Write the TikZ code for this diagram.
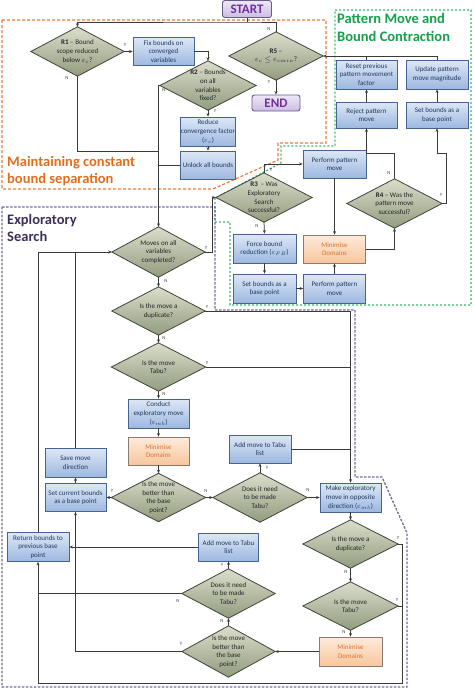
\documentclass[tikz,border=0pt]{standalone}
\usepackage{fontspec}
\setmainfont{Carlito}
\usetikzlibrary{arrows.meta}
\pgfdeclarelayer{back}
\pgfdeclarelayer{mid}
\pgfsetlayers{back,mid,main}
\definecolor{boxt}{HTML}{DDE7F5}
\definecolor{boxb}{HTML}{9DB8E0}
\definecolor{boxd}{HTML}{46648F}
\definecolor{boxtxt}{HTML}{1F3A60}
\definecolor{oboxt}{HTML}{FDEBDC}
\definecolor{oboxb}{HTML}{F8C69C}
\definecolor{oboxd}{HTML}{8C7A70}
\definecolor{oboxtxt}{HTML}{D9732F}
\definecolor{diat}{HTML}{DADDCB}
\definecolor{diab}{HTML}{929C7E}
\definecolor{diad}{HTML}{3E4438}
\definecolor{diatxt}{HTML}{262626}
\definecolor{linec}{HTML}{3A3A3A}
\definecolor{labc}{HTML}{404040}
\definecolor{termt}{HTML}{EEE8F6}
\definecolor{termb}{HTML}{CDBDE3}
\definecolor{termd}{HTML}{6A5A8A}
\definecolor{termtxt}{HTML}{7030A0}
\definecolor{orgc}{HTML}{EE7A3A}
\definecolor{grnc}{HTML}{3DB56C}
\definecolor{purc}{HTML}{6F6B94}
\definecolor{orgt}{HTML}{E36C1D}
\definecolor{grnt}{HTML}{15A04A}
\definecolor{purt}{HTML}{3D2E5C}
\newcommand{\bfnt}{\fontsize{7}{8.7}\selectfont}
\tikzset{
 line/.style={draw=linec, line width=0.75pt},
 arr/.style={line, -{Stealth[length=3.5pt,width=3pt]}},
 sz/.style 2 args={minimum width=#1pt, minimum height=#2pt},
 box/.style={rectangle, draw=boxd, line width=0.8pt, top color=boxt, bottom color=boxb, text=boxtxt, font=\bfnt, align=center, inner sep=0.5pt},
 obox/.style={box, draw=oboxd, top color=oboxt, bottom color=oboxb, text=oboxtxt},
 dia/.style={rectangle, inner sep=0pt, align=center, font=\bfnt, text=diatxt},
 lab/.style={font=\fontsize{4.8}{5}\selectfont, text=labc, inner sep=0pt},
 term/.style={rectangle, rounded corners=2.5pt, draw=termd, line width=0.9pt, top color=termt, bottom color=termb, text=termtxt, font=\fontsize{13}{14}\selectfont\bfseries, inner sep=0pt},
 ttl/.style={anchor=base west, inner sep=0pt, font=\fontsize{14.5}{17}\selectfont\bfseries},
 orgb/.style={draw=orgc, line width=1.2pt, dash pattern=on 3pt off 2pt},
 grnb/.style={draw=grnc, line width=1.2pt, dash pattern=on 2pt off 2pt},
 purb/.style={draw=purc, line width=1.3pt, dash pattern=on 2.5pt off 1.5pt},
}
\begin{document}
\begin{tikzpicture}[x=1pt,y=-1pt]
\useasboundingbox (0,0) rectangle (474,689);

% regions
\begin{pgfonlayer}{back}
\draw[orgb] (2,20) -- (326,20) -- (326,143) -- (278,143) -- (278,160) -- (213,189) -- (2,189) -- cycle;
\draw[grnb] (335,10) -- (471,10) -- (471,305) -- (230,305) -- (230,222) -- (215,222) -- (215,198) -- (281,163) -- (281,146) -- (335,146) -- cycle;
\draw[purb] (2,207) -- (215,207) -- (215,310) -- (355,310) -- (355,477) -- (382,477) -- (407,533) -- (407,687) -- (2,687) -- cycle;
\end{pgfonlayer}

% titles
\node[ttl, text=orgt] (t1a) at (7,166.5) {Maintaining constant};
\node[ttl, text=orgt] (t1b) at (7,183.5) {bound separation};
\node[ttl, text=grnt] (t2a) at (337,23.5) {Pattern Move and};
\node[ttl, text=grnt] (t2b) at (337,41) {Bound Contraction};
\node[ttl, text=purt] (t3a) at (7,224.5) {Exploratory};
\node[ttl, text=purt] (t3b) at (7,241.5) {Search};

% terminals
\node[term, sz={49}{17}] (START) at (247,9) {START};
\node[term, sz={48}{16}] (END) at (276,103) {END};

% maintaining region
\node[dia, sz={93}{49}] (R1) at (77.5,51.5) {\textbf{R1} – Bound\\scope reduced\\below $\varepsilon_c$?};
\node[box, sz={61}{28}] (fix) at (163.5,51.5) {Fix bounds on\\converged\\variables};
\node[dia, sz={96}{49}] (R2) at (208,85.5) {\textbf{R2} – Bounds\\on all\\variables\\fixed?};
\node[box, sz={55}{29}] (reduce) at (208,131.5) {Reduce\\convergence factor\\($\varepsilon_c$)};
\node[box, sz={55}{28}] (unlock) at (208,165) {Unlock all bounds};
\node[dia, sz={94}{48}] (R5) at (276,56) {\textbf{R5} –\\$\varepsilon_c \le \varepsilon_{cmin}$?};

% pattern region
\node[box, sz={61}{29}] (reset) at (366.5,74.5) {Reset previous\\pattern movement\\factor};
\node[box, sz={62}{29}] (update) at (437,74.5) {Update pattern\\move magnitude};
\node[box, sz={61}{26}] (reject) at (366.5,115) {Reject pattern\\move};
\node[box, sz={62}{26}] (setb1) at (437,115) {Set bounds as a\\base point};
\node[box, sz={63}{28}] (ppm1) at (334.5,164) {Perform pattern\\move};
\node[dia, sz={95}{49}] (R4) at (394.5,203.5) {\textbf{R4} – Was the\\pattern move\\successful?};
\node[dia, sz={96}{49}] (R3) at (264,197.5) {\textbf{R3} \,– Was\\Exploratory\\Search\\successful?};
\node[box, sz={63}{29}] (force) at (264.5,248.5) {Force bound\\reduction ($\varepsilon_{FB}$)};
\node[box, sz={63}{29}] (setb2) at (264.5,288.5) {Set bounds as a\\base point};
\node[box, sz={62}{29}] (ppm2) at (334.5,288.5) {Perform pattern\\move};
\node[obox, sz={62}{28}] (min1) at (334.5,249) {Minimise\\Domains};

% exploratory region
\node[dia, sz={93}{50}] (moves) at (158.5,252) {Moves on all\\variables\\completed?};
\node[dia, sz={93}{48}] (dup1) at (158.5,311) {Is the move a\\duplicate?};
\node[dia, sz={94}{48}] (tabu1) at (158.5,367) {Is the move\\Tabu?};
\node[box, sz={61}{29}] (conduct) at (158.5,413.5) {Conduct\\exploratory move\\($\varepsilon_{mb}$)};
\node[obox, sz={61}{28}] (min2) at (158.5,451) {Minimise\\Domains};
\node[dia, sz={94}{48}] (better1) at (158.5,497.5) {Is the move\\better than\\the base\\point?};
\node[box, sz={61}{29}] (save) at (75.5,462.5) {Save move\\direction};
\node[box, sz={61}{28}] (setcur) at (75.5,497.5) {Set current bounds\\as a base point};
\node[box, sz={62}{29}] (ret) at (38,547) {Return bounds to\\previous base\\point};
\node[box, sz={60}{28}] (addt2) at (228.5,547) {Add move to Tabu\\list};
\node[dia, sz={93}{49}] (need2) at (228.5,593.5) {Does it need\\to be made\\Tabu?};
\node[dia, sz={93}{51}] (better2) at (228.5,651.5) {Is the move\\better than\\the base\\point?};
\node[dia, sz={94}{49}] (need1) at (260,497.5) {Does it need\\to be made\\Tabu?};
\node[box, sz={62}{28}] (addt1) at (260,449) {Add move to Tabu\\list};
\node[box, sz={61}{29}] (make) at (350.5,497.5) {Make exploratory\\move in opposite\\direction ($\varepsilon_{mb}$)};
\node[dia, sz={95}{48}] (dup2) at (350.5,544) {Is the move a\\duplicate?};
\node[dia, sz={95}{48}] (tabu2) at (350.5,606) {Is the move\\Tabu?};
\node[obox, sz={63}{29}] (min3) at (350.5,651.5) {Minimise\\Domains};

% diamond shapes
\begin{pgfonlayer}{mid}
\foreach \n in {R1,R2,R5,R3,R4,moves,dup1,tabu1,better1,need1,need2,better2,dup2,tabu2}
  \shadedraw[draw=diad, line width=0.8pt, top color=diat, bottom color=diab] (\n.west) -- (\n.north) -- (\n.east) -- (\n.south) -- cycle;
\end{pgfonlayer}

% connectors
\coordinate (jtop) at (247,22);
\draw[line] (START.south) -- (jtop);
\draw[arr] (R5.north) |- (jtop) -| (R1.north);
\draw[arr] (R1.east) -- (fix.west);
\draw[arr] (fix.east) -| (R2.north);
\draw[arr] (R2.south) -- (reduce.north);
\draw[arr] (reduce.south) -- (unlock.north);
\draw[arr] (R2.west) -| (moves.north);
\coordinate (j1) at (158.5,151);
\draw[line] (R1.south) |- (j1);
\draw[line] (unlock.west) -- (unlock.west -| moves.north);
\draw[arr] (R5.south) -- (END.north);
\draw[arr] (update.north) |- (R5.east);
\draw[line] (reset.north) -- (reset.north |- R5.east);
\draw[arr] (reject.north) -- (reset.south);
\draw[arr] (setb1.north) -- (update.south);
\coordinate (r4n) at (394.5,153);
\draw[arr] (R4.north) -- (r4n) -| (reject.south);
\coordinate (r4y) at (446,153);
\draw[arr] (R4.east) -| (r4y) -| (setb1.south);
\draw[arr] (R3.north) |- (ppm1.west);
\draw[arr] (R3.south) -- (force.north);
\draw[arr] (force.south) -- (setb2.north);
\draw[arr] (setb2.east) -- (ppm2.west);
\draw[arr] (ppm2.north) -- (min1.south);
\draw[arr] (ppm1.south) -- (min1.north);
\draw[arr] (min1.east) -| (R4.south);
\coordinate (mY) at (212,252);
\draw[arr] (moves.east) -- (mY) |- (R3.west);
\draw[arr] (moves.south) -- (dup1.north);
\draw[arr] (dup1.east) -| (make.north);
\draw[line] (tabu1.east) -- (tabu1.east -| make.north);
\draw[line] (addt1.east) -- (addt1.east -| make.north);
\draw[arr] (dup1.south) -- (tabu1.north);
\draw[arr] (tabu1.south) -- (conduct.north);
\draw[arr] (conduct.south) -- (min2.north);
\draw[arr] (min2.south) -- (better1.north);
\draw[arr] (better1.west) -- (setcur.east);
\draw[arr] (better1.east) -- (need1.west);
\draw[arr] (need1.north) -- (addt1.south);
\draw[arr] (need1.east) -- (make.west);
\draw[arr] (setcur.north) -- (save.south);
\draw[arr] (save.north) |- (moves.west);
\draw[line] (ret.north) |- (save.north |- moves.west);
\draw[arr] (addt2.west) -- (ret.east);
\draw[arr] (need2.north) -- (addt2.south);
\draw[line] (need2.west) -- (need2.west -| ret.south);
\draw[arr] (better2.north) -- (need2.south);
\draw[arr] (better2.west) -| (setcur.south);
\draw[arr] (make.south) -- (dup2.north);
\draw[arr] (dup2.south) -- (tabu2.north);
\draw[arr] (tabu2.south) -- (min3.north);
\draw[arr] (min3.west) -- (better2.east);
\coordinate (br) at (402,683);
\draw[arr] (dup2.east) -| (br) -| (ret.south);
\draw[line] (tabu2.east) -- (tabu2.east -| br);

% Y/N labels
\node[lab] (y1) at (125,45) {Y};
\node[lab] (n1) at (67,78) {N};
\node[lab] (n2) at (164,90) {N};
\node[lab] (y2) at (215,111) {Y};
\node[lab] (n5) at (269,29) {N};
\node[lab] (y5) at (269,82) {Y};
\node[lab] (y3) at (271,170) {Y};
\node[lab] (n3) at (257,226) {N};
\node[lab] (n4) at (389,173) {N};
\node[lab] (y4) at (441,195) {Y};
\node[lab] (ym) at (206,248) {Y};
\node[lab] (nm) at (166,281) {N};
\node[lab] (yd1) at (207,307) {Y};
\node[lab] (nd1) at (164,338) {N};
\node[lab] (yt1) at (207,363) {Y};
\node[lab] (nt1) at (164,394) {N};
\node[lab] (yb1) at (112,491) {Y};
\node[lab] (nb1) at (206,491) {N};
\node[lab] (yn1) at (267,468) {Y};
\node[lab] (nn1) at (308,490) {N};
\node[lab] (yd2) at (398,538) {Y};
\node[lab] (nd2) at (346,572) {N};
\node[lab] (yt2) at (397,600) {Y};
\node[lab] (nt2) at (344,632) {N};
\node[lab] (yn2) at (222,565) {Y};
\node[lab] (nn2) at (178,601) {N};
\node[lab] (nb2) at (222,621) {N};
\node[lab] (yb2) at (181,644) {Y};
\end{tikzpicture}
\end{document}
